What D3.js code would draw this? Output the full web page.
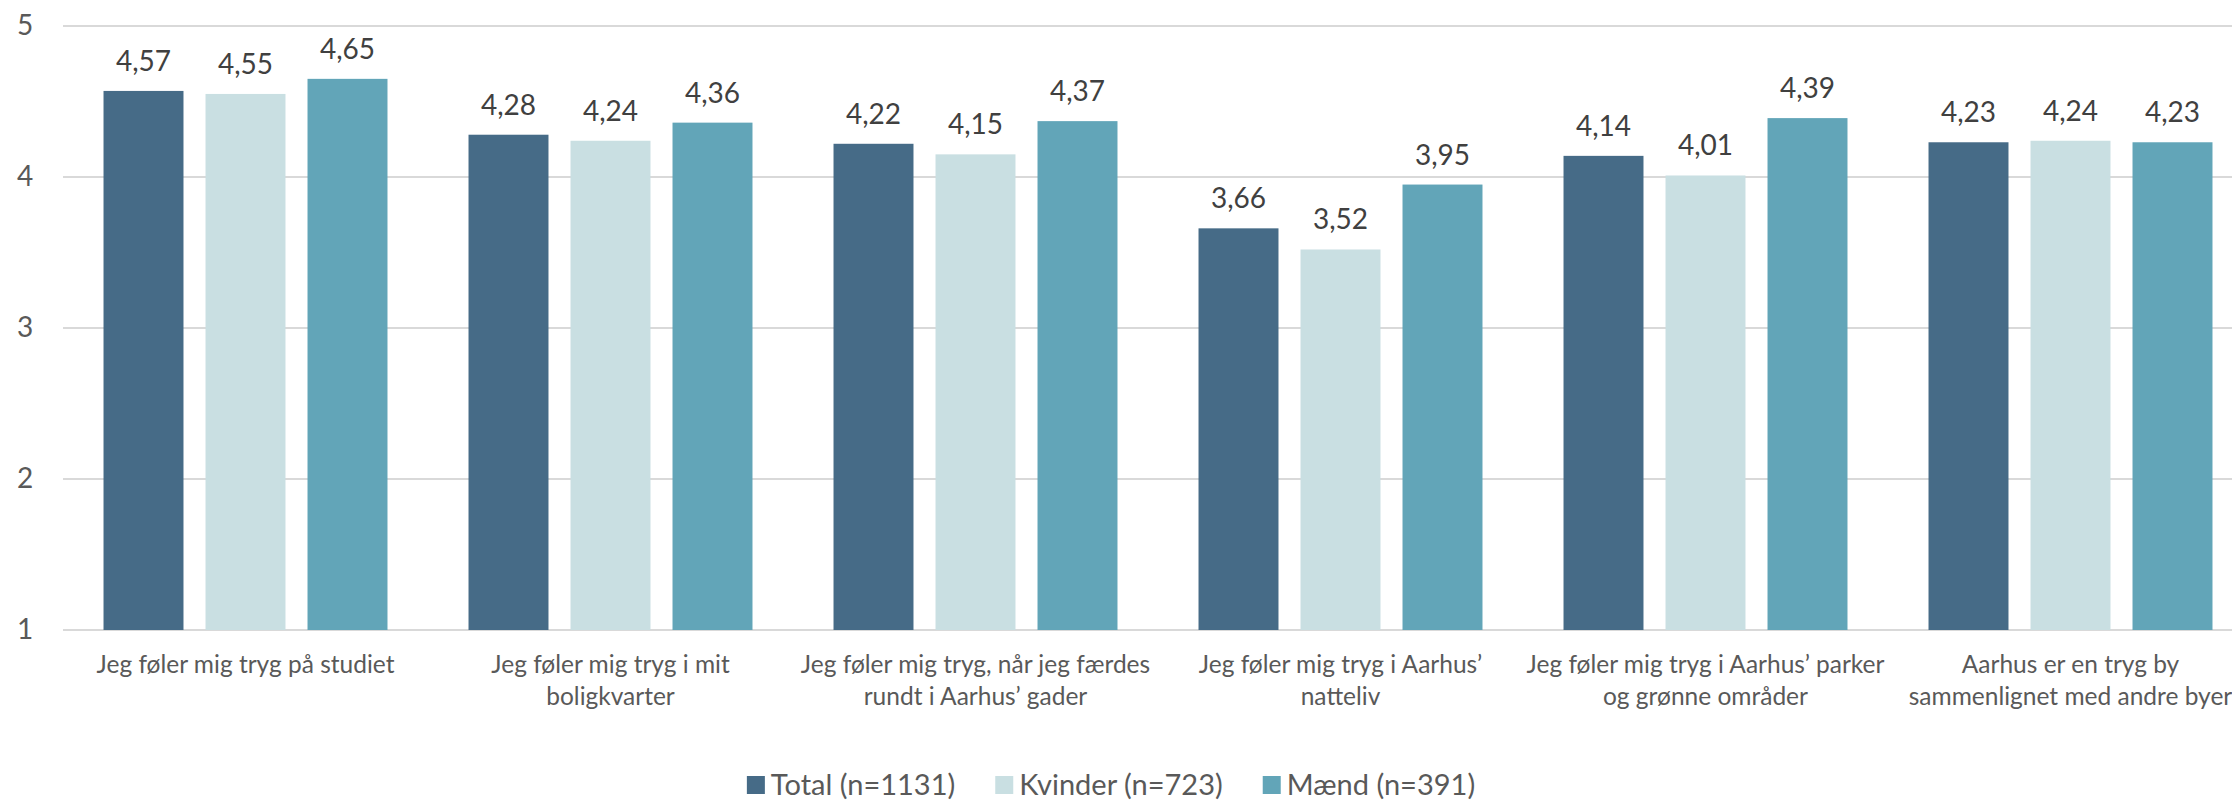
<!DOCTYPE html>
<html>
<head>
<meta charset="utf-8">
<script src="https://cdn.jsdelivr.net/npm/d3@7"></script>
<style>
  body { margin: 0; background: #fff; }
  svg { display: block; font-family: Lato, "Open Sans", sans-serif; }
</style>
</head>
<body>
<div id="chart"></div>
<script>
// chart values
const categories = [
    ["Jeg føler mig tryg på studiet"],
    ["Jeg føler mig tryg i mit", "boligkvarter"],
    ["Jeg føler mig tryg, når jeg færdes", "rundt i Aarhus’ gader"],
    ["Jeg føler mig tryg i Aarhus’", "natteliv"],
    ["Jeg føler mig tryg i Aarhus’ parker", "og grønne områder"],
    ["Aarhus er en tryg by", "sammenlignet med andre byer"]
];
const seriesNames = ["Total (n=1131)", "Kvinder (n=723)", "Mænd (n=391)"];
const total = [4.57, 4.28, 4.22, 3.66, 4.14, 4.23];
const kvinder = [4.55, 4.24, 4.15, 3.52, 4.01, 4.24];
const maend = [4.65, 4.36, 4.37, 3.95, 4.39, 4.23];
const yTicks = [1, 2, 3, 4, 5];
const colors = ["#466b87", "#c9dfe2", "#62a5b8"];

const width = 2232, height = 802;
const margin = {top: 26, left: 63, bottom: 172};
const plotRight = 2253;   // the last group runs past the right edge, like the original

let svg = d3.select("#chart")
    .append("svg")
    .attr("width", width)
    .attr("height", height);

// group index -> key used by the scales
let groupKeys = categories.map((c, i) => i);
let seriesKeys = seriesNames.map((s, i) => i);
let allSeries = [total, kvinder, maend];

let x0 = d3.scaleBand()
    .domain(groupKeys)
    .range([margin.left, plotRight]);

let x1 = d3.scaleBand()
    .domain(seriesKeys)
    .range([x0.bandwidth() * 0.111, x0.bandwidth() * 0.889])
    .paddingInner(0.216);

let y = d3.scaleLinear()
    .domain([1, 5])
    .range([height - margin.bottom, margin.top]);

// gridlines
svg.append("g")
    .selectAll("line")
    .data(yTicks)
    .enter()
    .append("line")
    .attr("x1", margin.left)
    .attr("x2", width)
    .attr("y1", d => y(d))
    .attr("y2", d => y(d))
    .attr("stroke", "#d9d9d9")
    .attr("stroke-width", 2);

// y axis labels
let yAxis = svg.append("g")
    .attr("transform", `translate(25, 0)`)
    .call(d3.axisLeft(y).tickValues(yTicks).tickSize(0).tickPadding(0).tickFormat(d3.format("d")));
yAxis.select(".domain").remove();
yAxis.selectAll("text")
    .attr("text-anchor", "middle")
    .attr("fill", "#595959")
    .style("font-size", "28px")
    .style("font-family", "Lato, 'Open Sans', sans-serif");

// flatten to bar records
let bar_data = [];
for (const g of groupKeys) {
    for (const s of seriesKeys) {
        bar_data.push({g: g, s: s, v: allSeries[s][g]});
    }
}

let groups = svg.append("g");

groups.selectAll("rect")
    .data(bar_data)
    .enter()
    .append("rect")
    .attr("x", d => x0(d.g) + x1(d.s))
    .attr("y", d => y(d.v))
    .attr("width", x1.bandwidth())
    .attr("height", d => y(1) - y(d.v))
    .attr("fill", d => colors[d.s]);

// value labels
groups.selectAll("text")
    .data(bar_data)
    .enter()
    .append("text")
    .attr("x", d => x0(d.g) + x1(d.s) + x1.bandwidth() / 2)
    .attr("y", d => y(d.v) - 20)
    .attr("text-anchor", "middle")
    .attr("fill", "#404040")
    .style("font-size", "28px")
    .text(d => d3.format(".2f")(d.v).replace(".", ","));

// category labels
let catLabels = svg.append("g")
    .selectAll("text")
    .data(groupKeys)
    .enter()
    .append("text")
    .attr("text-anchor", "middle")
    .attr("fill", "#595959")
    .style("font-size", "24.5px")
    .attr("transform", d => `translate(${x0(d) + x0.bandwidth() / 2}, ${y(1) + 43})`);

catLabels.selectAll("tspan")
    .data(d => categories[d])
    .enter()
    .append("tspan")
    .attr("x", 0)
    .attr("dy", (d, i) => i === 0 ? 0 : 32)
    .text(d => d);

// legend
let legend = svg.append("g");
let items = legend.selectAll("g")
    .data(seriesKeys)
    .enter()
    .append("g");

items.append("rect")
    .attr("width", 18)
    .attr("height", 18)
    .attr("y", -9)
    .attr("fill", d => colors[d]);

items.append("text")
    .attr("x", 24)
    .attr("dy", "0.35em")
    .attr("fill", "#595959")
    .style("font-size", "29px")
    .text(d => seriesNames[d]);

// place legend items next to each other, centred
let offset = 0;
let itemGap = 40;
let offsets = [];
items.each(function() {
    offsets.push(offset);
    offset += this.getBBox().width + itemGap;
});
let legendWidth = offset - itemGap;
items.attr("transform", (d, i) => `translate(${offsets[i]}, 0)`);
legend.attr("transform", `translate(${1111 - legendWidth / 2}, 785)`);
</script>
</body>
</html>
